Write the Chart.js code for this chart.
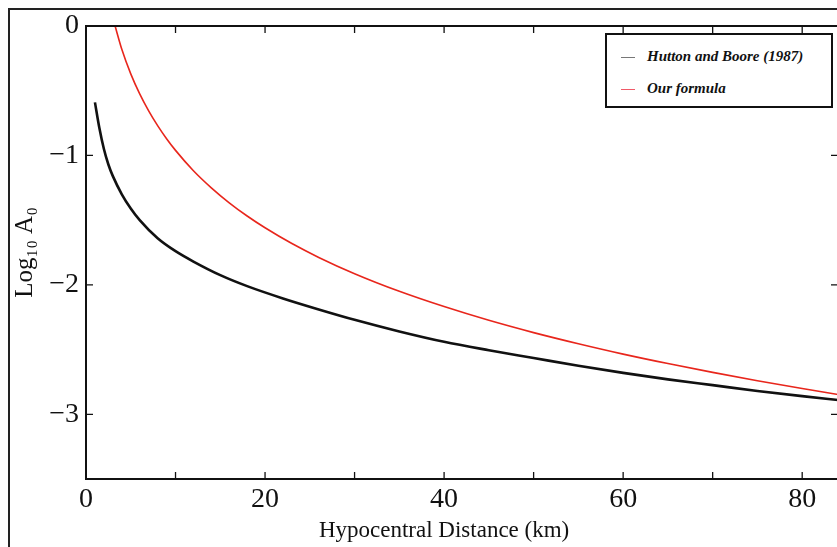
<!DOCTYPE html>
<html>
<head>
<meta charset="utf-8">
<script src="https://cdn.jsdelivr.net/npm/chart.js@4"></script>
<style>
  html, body { margin: 0; padding: 0; background: #fff; overflow: hidden; }
  #wrap { position: relative; width: 837px; height: 547px; overflow: hidden; }
  #frame { position: absolute; left: 8px; top: 8px; width: 900px; height: 600px;
           border-left: 2px solid #222; border-top: 2px solid #222; }
  #chartBox { position: absolute; left: 0; top: 0; width: 845px; height: 547px; }
  #legend { position: absolute; left: 605px; top: 33px; width: 224px; height: 71px;
            border: 2px solid #111; background: #fff;
            font: italic bold 15px "Liberation Serif", serif; color: #111; }
  #legend .item { position: absolute; left: 14px; height: 20px; line-height: 20px; white-space: nowrap; }
  #legend .swatch { display: inline-block; width: 14px; height: 1px; vertical-align: middle; margin-right: 12px; }
</style>
</head>
<body>
<div id="wrap">
  <div id="frame"></div>
  <div id="chartBox"><canvas id="chart" width="845" height="547"></canvas></div>
  <div id="legend"></div>
</div>
<script>
// Hutton and Boore (1987)
const hbDist = [1, 1.5, 2, 2.5, 3, 4, 5, 6, 8, 10, 12, 15, 18, 22, 26, 30, 35, 40, 45, 50, 55, 60, 65, 70, 75, 80, 84];
const hbLogA0 = [-0.59, -0.79, -0.95, -1.07, -1.16, -1.30, -1.41, -1.50, -1.64, -1.74, -1.82, -1.925, -2.01, -2.105, -2.19, -2.27, -2.36, -2.44, -2.505, -2.565, -2.625, -2.68, -2.73, -2.775, -2.82, -2.86, -2.89];

// Our formula
const ourDist = [3.25, 4, 5, 6, 7, 8, 9, 10, 12, 14, 16, 18, 20, 23, 26, 30, 35, 40, 45, 50, 55, 60, 65, 70, 75, 80, 84];
const ourLogA0 = [0, -0.18, -0.37, -0.525, -0.656, -0.77, -0.871, -0.961, -1.118, -1.25, -1.366, -1.468, -1.559, -1.681, -1.788, -1.914, -2.05, -2.168, -2.274, -2.369, -2.455, -2.535, -2.608, -2.676, -2.741, -2.801, -2.847];

const seriesNames = ["Hutton and Boore (1987)", "Our formula"];
const xLabelTicks = [0, 20, 40, 60, 80];
const xTitle = "Hypocentral Distance (km)";
const yTitle = "Log\u2081\u2080 A\u2080";

const pts = (xs, ys) => xs.map((v, i) => ({ x: v, y: ys[i] }));

// ticks pointing inward + plot frame + x title
const frameTicks = {
    id: 'frameTicks',
    afterDatasetsDraw(chart) {
        const { ctx, chartArea: a, scales: { x, y } } = chart;
        ctx.save();
        ctx.strokeStyle = '#111';
        ctx.lineWidth = 1.3;
        ctx.beginPath();
        x.ticks.forEach(t => {
            const px = x.getPixelForValue(t.value);
            ctx.moveTo(px, a.bottom); ctx.lineTo(px, a.bottom - 7);
            ctx.moveTo(px, a.top); ctx.lineTo(px, a.top + 7);
        });
        y.ticks.forEach(t => {
            const py = y.getPixelForValue(t.value);
            ctx.moveTo(a.left, py); ctx.lineTo(a.left + 7, py);
            ctx.moveTo(a.right, py); ctx.lineTo(a.right - 7, py);
        });
        ctx.stroke();
        ctx.lineWidth = 2;
        ctx.strokeRect(a.left, a.top, a.width, a.height);

        ctx.fillStyle = '#111';
        ctx.font = '23px "Liberation Serif", serif';
        ctx.textAlign = 'center';
        ctx.textBaseline = 'alphabetic';
        ctx.fillText(xTitle, x.getPixelForValue(40), 537);
        ctx.restore();
    }
};

new Chart(document.getElementById('chart'), {
    type: 'scatter',
    data: {
        datasets: [
            { label: seriesNames[0], data: pts(hbDist, hbLogA0), showLine: true,
              borderColor: '#111', borderWidth: 2.6, pointRadius: 0, cubicInterpolationMode: 'monotone' },
            { label: seriesNames[1], data: pts(ourDist, ourLogA0), showLine: true,
              borderColor: '#e8261c', borderWidth: 1.6, pointRadius: 0, cubicInterpolationMode: 'monotone' }
        ]
    },
    options: {
        responsive: false,
        animation: false,
        layout: { padding: { top: 26, right: 7, left: 0, bottom: 0 } },
        plugins: { legend: { display: false }, tooltip: { enabled: false } },
        scales: {
            x: {
                type: 'linear', min: 0, max: 84,
                grid: { display: false, drawTicks: false },
                border: { display: false },
                ticks: {
                    stepSize: 10, includeBounds: false, autoSkip: false, maxRotation: 0, padding: 4,
                    color: '#111', font: { family: '"Liberation Serif", serif', size: 28 },
                    callback: v => xLabelTicks.includes(v) ? String(v) : ''
                },
                afterFit: s => { s.height = 68; }
            },
            y: {
                min: -3.5, max: 0,
                grid: { display: false, drawTicks: false },
                border: { display: false },
                ticks: {
                    stepSize: 1, includeBounds: false, padding: 7,
                    color: '#111', font: { family: '"Liberation Serif", serif', size: 28 },
                    callback: v => v === 0 ? '0' : '\u2212' + Math.abs(v)
                },
                title: { display: true, text: yTitle, color: '#111', padding: { top: 10, bottom: 0 },
                         font: { family: '"Liberation Serif", serif', size: 25 } },
                afterFit: s => { s.width = 86; }
            }
        }
    },
    plugins: [frameTicks]
});

// legend box
const legendColors = ['#777', '#f05a68'];
const legend = document.getElementById('legend');
seriesNames.forEach((name, i) => {
    legend.innerHTML += `<div class="item" style="top:${11 + i * 32}px"><span class="swatch" style="background:${legendColors[i]}"></span>${name}</div>`;
});
</script>
</body>
</html>
